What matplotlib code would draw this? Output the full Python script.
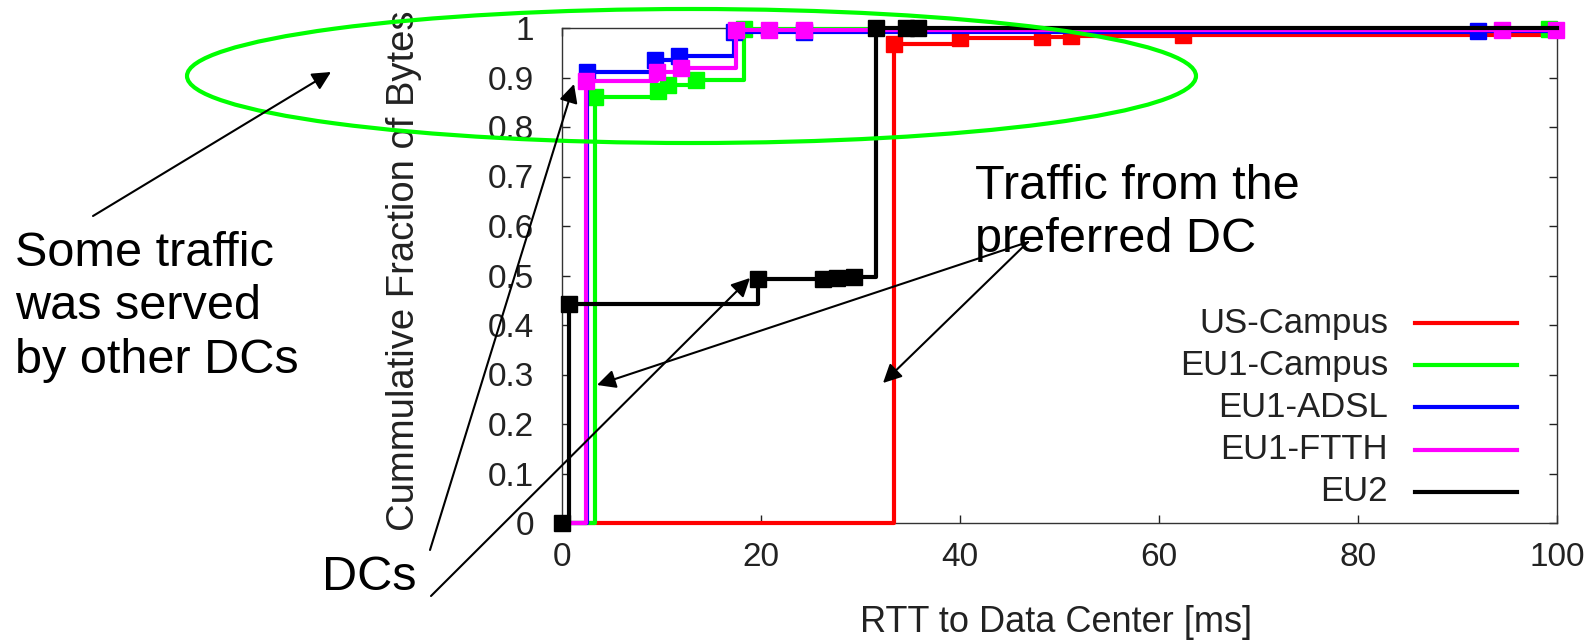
import matplotlib.pyplot as plt
from matplotlib.patches import Ellipse, FancyArrowPatch
from matplotlib.lines import Line2D

plt.rcParams['font.family'] = ['Liberation Sans', 'DejaVu Sans']

# CDF of bytes vs RTT to the serving data center (ms)
us_campus_x = [0, 33.4, 40.0, 48.2, 51.2, 62.4, 100]
us_campus_y = [0, 0.967, 0.980, 0.982, 0.984, 0.986, 0.988]

eu1_campus_x = [0, 3.3, 9.6, 10.7, 13.5, 18.3, 99.2]
eu1_campus_y = [0, 0.860, 0.873, 0.885, 0.894, 0.997, 0.997]

eu1_adsl_x = [0, 2.5, 9.3, 11.8, 17.3, 24.3, 92.1, 100]
eu1_adsl_y = [0, 0.911, 0.936, 0.943, 0.992, 0.992, 0.993, 0.993]

eu1_ftth_x = [0, 2.4, 9.5, 12.0, 17.5, 20.8, 24.3, 94.5, 99.9]
eu1_ftth_y = [0, 0.893, 0.912, 0.920, 0.995, 0.995, 0.995, 0.996, 0.996]

eu2_x = [0, 0.7, 19.7, 26.2, 27.6, 29.3, 31.6, 34.6, 35.8, 100]
eu2_y = [0, 0.442, 0.492, 0.493, 0.494, 0.496, 1.0, 1.0, 1.0, 1.0]

labels = ['US-Campus', 'EU1-Campus', 'EU1-ADSL', 'EU1-FTTH', 'EU2']
colors = ['#ff0000', '#00ff00', '#0000ff', '#ff00ff', '#000000']
xs = [us_campus_x, eu1_campus_x, eu1_adsl_x, eu1_ftth_x, eu2_x]
ys = [us_campus_y, eu1_campus_y, eu1_adsl_y, eu1_ftth_y, eu2_y]
# which points carry a square marker
marks = [[1, 2, 3, 4, 5], [1, 2, 3, 4, 5, 6], [1, 2, 3, 4, 5, 6],
         [1, 2, 3, 4, 5, 6, 7, 8], [0, 1, 2, 3, 4, 5, 6, 7, 8]]

W, H = 1590, 644


def fxy(x, y):
    # pixel position (origin top-left) -> figure fraction
    return x / W, 1 - y / H


fig = plt.figure(figsize=(W / 100, H / 100), dpi=100)
ax = fig.add_axes([562 / W, 1 - 523 / H, 995 / W, 495 / H])

for i in range(len(labels)):
    ax.plot(xs[i], ys[i], drawstyle='steps-post', color=colors[i], lw=3,
            marker='s', ms=11.5, markevery=marks[i], clip_on=False,
            zorder=3 + i)

ax.set_xlim(0, 100)
ax.set_ylim(0, 1)
ax.set_xticks(range(0, 101, 20))
ax.set_yticks([i / 10 for i in range(11)])
ax.set_yticklabels(['%g' % (i / 10) for i in range(11)])
ax.tick_params(direction='in', length=6, width=1, top=True, right=True,
               labelsize=24, colors='#222222')
ax.tick_params(axis='x', pad=14)
ax.tick_params(axis='y', pad=20)
for s in ax.spines.values():
    s.set_linewidth(1.0)
    s.set_color('#333333')

ax.set_xlabel('RTT to Data Center [ms]', fontsize=26, color='#222222', va='center')
ax.xaxis.set_label_coords(0.497, -0.2)
ax.set_ylabel('Cummulative Fraction of Bytes', fontsize=27.5, color='#222222', va='center')
ax.yaxis.set_label_coords(-0.159, 0.51)

# legend: right-aligned names followed by the line sample
for i, lab in enumerate(labels):
    yy = 323 + 42.2 * i
    fig.text(*fxy(1388, yy), lab, ha='right', va='center', fontsize=25,
             color='#222222')
    x0, y0 = fxy(1415, yy)
    x1, _ = fxy(1517, yy)
    fig.add_artist(Line2D([x0, x1], [y0, y0], transform=fig.transFigure,
                          color=colors[i], lw=3))

# highlight around the top of the curves
fig.add_artist(Ellipse(fxy(691.5, 76), 1009 / W, 134 / H,
                       transform=fig.transFigure, fill=False,
                       ec='#00ff00', lw=3))

# callouts
fig.text(*fxy(15, 307), 'Some traffic\nwas served\nby other DCs',
         fontsize=35, ha='left', va='center', linespacing=1.24)
fig.text(*fxy(322, 578), 'DCs', fontsize=35, ha='left', va='center')
fig.text(*fxy(975, 213), 'Traffic from the\npreferred DC',
         fontsize=35, ha='left', va='center', linespacing=1.22)

arrows = [((93, 216), (331, 72)),
          ((430, 550), (574, 84)),
          ((431, 596), (750, 278)),
          ((1028, 242), (597, 385)),
          ((1028, 242), (883, 383))]
for a, b in arrows:
    fig.add_artist(FancyArrowPatch(fxy(*a), fxy(*b), transform=fig.transFigure,
                                   arrowstyle='-|>', mutation_scale=28,
                                   lw=1.5, color='black',
                                   shrinkA=0, shrinkB=0))

fig.savefig('out.png', dpi=100)
